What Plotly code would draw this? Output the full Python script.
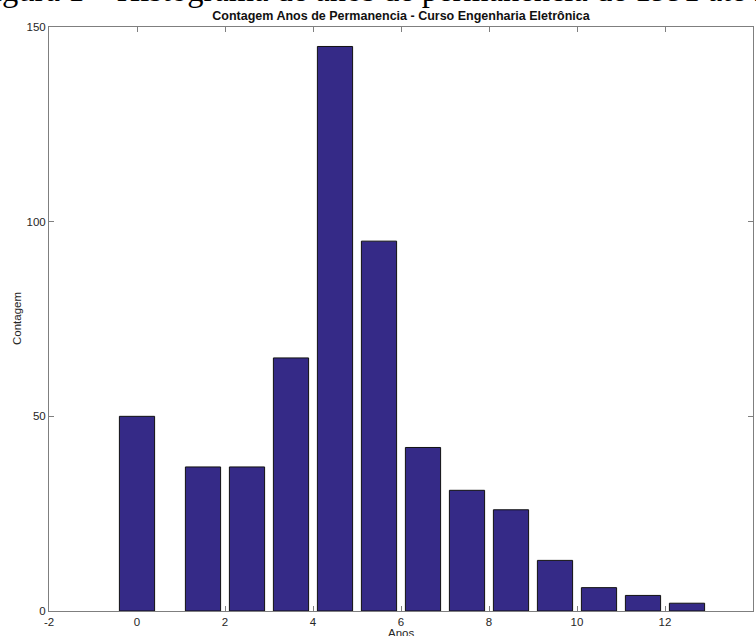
import plotly.graph_objects as go

anos = [0, 1.5, 2.5, 3.5, 4.5, 5.5, 6.5, 7.5, 8.5, 9.5, 10.5, 11.5, 12.5]
contagem = [50, 37, 37, 65, 145, 95, 42, 31, 26, 13, 6, 4, 2]
x_ticks = [-2, 0, 2, 4, 6, 8, 10, 12, 14]
y_ticks = [0, 50, 100, 150]

titulo = "Contagem Anos de Permanencia - Curso Engenharia Eletrônica"
legenda_figura = "Figura 1 – Histograma de anos de permanência de 1991 até 2018"

W, H = 756, 636
L, R, T, B = 49, 3, 27, 25
PW = W - L - R
PH = H - T - B

font_sans = "Liberation Sans, Arial, Helvetica, sans-serif"
grey = "#7f7f7f"
txt = "#262626"

fig = go.Figure(go.Bar(
    x=anos, y=contagem, width=0.8,
    marker=dict(color="#352a87", line=dict(color="#111111", width=1)),
))

axis_common = dict(
    showline=True, linecolor=grey, linewidth=1, mirror="ticks",
    ticks="inside", ticklen=5, tickcolor=grey, tickwidth=1,
    showgrid=False, zeroline=False, layer="below traces",
    tickfont=dict(family=font_sans, size=11.5, color=txt),
)

fig.update_xaxes(range=[-2, 14], tickvals=x_ticks, ticktext=[str(v) for v in x_ticks],
                 ticklabelstandoff=0, **axis_common)
fig.update_yaxes(range=[0, 150], tickvals=y_ticks, ticktext=[str(v) for v in y_ticks],
                 **axis_common)

fig.update_layout(
    template="none",
    width=W, height=H,
    margin=dict(l=L, r=R, t=T, b=B, autoexpand=False),
    paper_bgcolor="white", plot_bgcolor="white",
    showlegend=False,
    title=dict(text="<b>" + titulo + "</b>", x=0.5 * (L + W - R) / W, xanchor="center",
               y=1 - 15.5 / H, yanchor="middle", yref="container",
               font=dict(family=font_sans, size=12.5, color="#111111")),
)

# axis titles
fig.add_annotation(text="Anos", xref="paper", yref="paper", x=0.5, xanchor="center",
                   y=-(633 - T - PH) / PH, yanchor="middle", showarrow=False,
                   font=dict(family=font_sans, size=11.5, color=txt))
fig.add_annotation(text="Contagem", xref="paper", yref="paper", x=(17 - L) / PW, xanchor="center",
                   y=0.5, yanchor="middle", textangle=-90, showarrow=False,
                   font=dict(family=font_sans, size=11.5, color=txt))

fig.add_annotation(
    text=legenda_figura, xref="paper", yref="paper",
    x=(-27 - L) / PW, xanchor="left",
    y=1 + (T - 10) / PH, yanchor="bottom",
    showarrow=False,
    font=dict(family="Liberation Serif, Times New Roman, serif", size=32.5, color="black"),
)

fig.write_html("out.html", config={"displayModeBar": False},
               post_script="document.body.style.margin='0';document.body.style.overflow='hidden';")
